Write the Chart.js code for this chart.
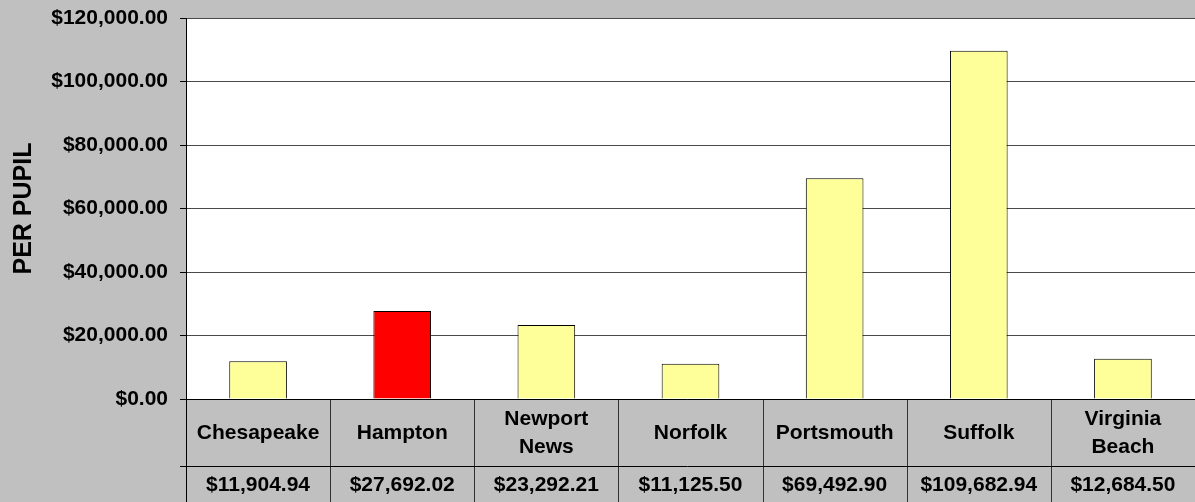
<!DOCTYPE html>
<html>
	<head>
		<style>
			html, body {
				margin: 0;
				padding: 0;
				background: #c0c0c0;
			}
			#wrap {
				width: 1195px;
				height: 502px;
			}
		</style>
		<title>Per Pupil</title>
	</head>
	<body>
		<div id="wrap"><canvas id="canvas1" width="1195" height="502"></canvas></div>
		<script src="https://cdn.jsdelivr.net/npm/chart.js@4/dist/chart.umd.min.js"></script>
		<script>
			var cities = [["Chesapeake"], ["Hampton"], ["Newport", "News"], ["Norfolk"], ["Portsmouth"], ["Suffolk"], ["Virginia", "Beach"]];
			var perPupil = [11904.94, 27692.02, 23292.21, 11125.50, 69492.90, 109682.94, 12684.50];
			var barColors = ["#ffff99", "#ff0000", "#ffff99", "#ffff99", "#ffff99", "#ffff99", "#ffff99"];
			var yTicks = [0, 20000, 40000, 60000, 80000, 100000, 120000];

			var fontName = "'Liberation Sans', Arial, sans-serif";

			function money(v) {
				return "$" + v.toLocaleString("en-US", {minimumFractionDigits: 2, maximumFractionDigits: 2});
			}

			// white plot area, data table under the bars
			var tablePlugin = {
				id: "table",
				beforeDraw: function (chart) {
					var a = chart.chartArea, c = chart.ctx;
					c.save();
					c.fillStyle = "#c0c0c0";
					c.fillRect(0, 0, chart.width, chart.height);
					c.fillStyle = "#ffffff";
					c.fillRect(a.left, a.top, a.right - a.left, a.bottom - a.top);
					c.restore();
				},
				afterDraw: function (chart) {
					var a = chart.chartArea, c = chart.ctx, xs = chart.scales.x;
					var n = cities.length;
					var cw = (a.right - a.left) / n;
					var top = a.bottom, mid = a.bottom + 67, bot = chart.height;
					c.save();
					c.lineWidth = 1;
					c.strokeStyle = "#333";
					for (var i = 1; i < n; i++) {
						var bx = Math.round(xs.getPixelForValue(i) - cw / 2) + 0.5;
						c.beginPath();
						c.moveTo(bx, top);
						c.lineTo(bx, bot);
						c.stroke();
					}
					c.strokeStyle = "#000";
					c.beginPath();
					c.moveTo(a.left - 6, Math.round(top) + 0.5);
					c.lineTo(a.right, Math.round(top) + 0.5);
					c.moveTo(a.left - 6, mid + 0.5);
					c.lineTo(a.right, mid + 0.5);
					c.moveTo(Math.round(a.left) + 0.5, top);
					c.lineTo(Math.round(a.left) + 0.5, bot);
					c.stroke();

					c.fillStyle = "#000";
					c.font = "bold 21px " + fontName;
					c.textAlign = "center";
					c.textBaseline = "middle";
					for (var j = 0; j < n; j++) {
						var cx = xs.getPixelForValue(j);
						var lines = cities[j];
						var lh = 28;
						var y0 = (top + mid) / 2 - (lines.length - 1) * lh / 2 + 1;
						for (var k = 0; k < lines.length; k++) {
							c.fillText(lines[k], cx, y0 + k * lh);
						}
						c.fillText(money(perPupil[j]), cx, (mid + bot) / 2 + 1);
					}
					c.restore();
				}
			};

			var ctx1 = document.getElementById("canvas1").getContext("2d");

			var Chart1 = new Chart(ctx1, {
				type: "bar",
				data: {
					labels: cities.map(function (l) { return l.join(" "); }),
					datasets: [
						{
							label: "PER PUPIL",
							data: perPupil,
							backgroundColor: barColors,
							borderColor: "#000",
							borderWidth: 1,
							categoryPercentage: 1,
							barPercentage: 0.4
						}
					]
				},
				options: {
					animation: false,
					responsive: false,
					layout: {
						padding: {top: 18, right: 0, left: 0, bottom: 0}
					},
					plugins: {
						legend: {display: false},
						tooltip: {enabled: false}
					},
					scales: {
						x: {
							grid: {display: false},
							border: {display: false},
							ticks: {display: false},
							afterFit: function (s) { s.height = 103; s.paddingLeft = 0; s.paddingRight = 0; }
						},
						y: {
							min: 0,
							max: 120000,
							afterFit: function (s) { s.width = 186; s.paddingTop = 0; s.paddingBottom = 0; },
							afterBuildTicks: function (s) {
								s.ticks = yTicks.map(function (v) { return {value: v}; });
							},
							border: {color: "#000", width: 1},
							grid: {
								color: "#4a4a4a",
								tickColor: "#000",
								tickLength: 6,
								lineWidth: 1
							},
							ticks: {
								color: "#000",
								padding: 12,
								font: {family: fontName, size: 21, weight: "bold"},
								callback: function (v) { return money(v); }
							},
							title: {
								display: true,
								text: "PER PUPIL",
								color: "#000",
								padding: {top: 9, bottom: 0},
								font: {family: fontName, size: 25, weight: "bold"}
							}
						}
					}
				},
				plugins: [tablePlugin]
			});
		</script>
	</body>
</html>
